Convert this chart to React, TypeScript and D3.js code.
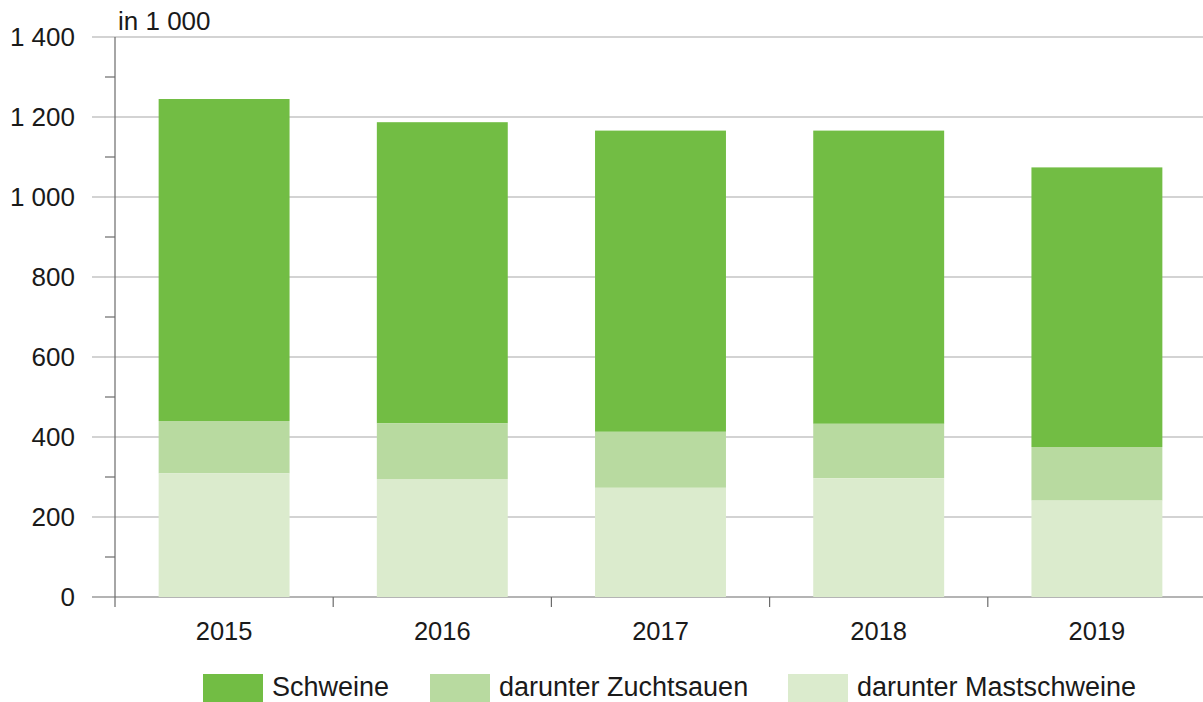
import React from "react";
import * as d3 from "d3";

const years = ["2015", "2016", "2017", "2018", "2019"];
const schweine = [1245, 1187, 1166, 1166, 1074];
const zuchtsauen = [131, 139, 140, 136, 134];
const mastschweine = [309, 295, 273, 297, 241];
const majorTicks = [0, 200, 400, 600, 800, 1000, 1200, 1400];
const minorTicks = [100, 300, 500, 700, 900, 1100, 1300];
const seriesNames = ["Schweine", "darunter Zuchtsauen", "darunter Mastschweine"];
const seriesColors = ["#72bd44", "#b8daa0", "#dbebcd"];

const fmt = (v: number) => {
  const s = String(v);
  return s.length > 3 ? s.slice(0, s.length - 3) + " " + s.slice(-3) : s;
};

export default function App() {
  const W = 1203;
  const H = 702;
  const x = d3.scaleBand<string>().domain(years).range([115, 1206]).paddingInner(0.4).paddingOuter(0.2);
  const y = d3.scaleLinear().domain([0, 1400]).range([597, 37]);
  const step = x.step();
  const boundaries = years.map((_, i) => 115 + step * i);
  const font = "Arial, 'Liberation Sans', sans-serif";

  return (
    <svg width={W} height={H} style={{ position: "absolute", left: 0, top: 0, background: "#fff" }} fontFamily={font}>
      {majorTicks.map((t) => (
        <line key={"g" + t} x1={92} x2={W} y1={y(t)} y2={y(t)} stroke={t === 0 ? "#6b6b6b" : "#a8a8a8"} strokeWidth={1.2} />
      ))}
      {minorTicks.map((t) => (
        <line key={"m" + t} x1={105} x2={115} y1={y(t)} y2={y(t)} stroke="#6b6b6b" strokeWidth={1.2} />
      ))}
      {years.map((yr, i) => {
        const x0 = x(yr)!;
        const bw = x.bandwidth();
        const m = mastschweine[i];
        const z = zuchtsauen[i];
        const s = schweine[i];
        return (
          <g key={yr}>
            <rect x={x0} width={bw} y={y(s)} height={y(m + z) - y(s)} fill={seriesColors[0]} />
            <rect x={x0} width={bw} y={y(m + z)} height={y(m) - y(m + z)} fill={seriesColors[1]} />
            <rect x={x0} width={bw} y={y(m)} height={y(0) - y(m)} fill={seriesColors[2]} />
          </g>
        );
      })}
      <line x1={115} x2={115} y1={37} y2={607} stroke="#6b6b6b" strokeWidth={1.2} />
      {boundaries.slice(1).map((bx, i) => (
        <line key={"b" + i} x1={bx} x2={bx} y1={597} y2={607} stroke="#6b6b6b" strokeWidth={1.2} />
      ))}
      {majorTicks.map((t) => (
        <text key={"l" + t} x={75} y={y(t)} textAnchor="end" dominantBaseline="central" fontSize={26} fill="#1a1a1a">
          {fmt(t)}
        </text>
      ))}
      <text x={118} y={21} dominantBaseline="central" fontSize={26} fill="#1a1a1a">in 1 000</text>
      {years.map((yr) => (
        <text key={"x" + yr} x={x(yr)! + x.bandwidth() / 2} y={640} textAnchor="middle" fontSize={25.5} fill="#1a1a1a">
          {yr}
        </text>
      ))}
      {seriesNames.map((name, i) => {
        const lx = [203, 430, 788][i];
        return (
          <g key={name}>
            <rect x={lx} y={674} width={60} height={28} fill={seriesColors[i]} />
            <text x={lx + 69} y={696} fontSize={27} fill="#1a1a1a">{name}</text>
          </g>
        );
      })}
    </svg>
  );
}
